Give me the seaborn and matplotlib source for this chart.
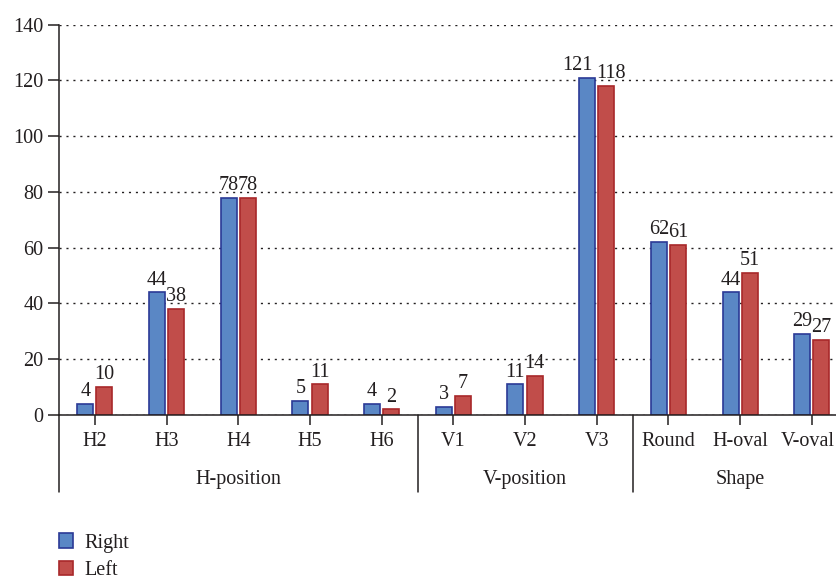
import matplotlib
matplotlib.use('Agg')
import matplotlib.pyplot as plt
import matplotlib.transforms as mtransforms
from matplotlib.patches import Patch
import seaborn as sns
import pandas as pd

categories = ["H2", "H3", "H4", "H5", "H6", "V1", "V2", "V3", "Round", "H-oval", "V-oval"]
right_vals = [4, 44, 78, 5, 4, 3, 11, 121, 62, 44, 29]
left_vals = [10, 38, 78, 11, 2, 7, 14, 118, 61, 51, 27]
groups = ["H-position", "V-position", "Shape"]
group_sizes = [5, 3, 3]
series = ["Right", "Left"]

fills = {"Right": "#5A87C5", "Left": "#C14D4A"}
edges = {"Right": "#2B3A96", "Left": "#A8282A"}
ink = '#231F20'
fs = 14.5

df = pd.DataFrame({
    "category": categories * 2,
    "value": right_vals + left_vals,
    "side": ["Right"] * len(categories) + ["Left"] * len(categories),
})

sns.set_theme(style="white")
plt.rcParams['font.family'] = ['Liberation Serif', 'DejaVu Serif']
plt.rcParams['text.color'] = ink

fig = plt.figure(figsize=(8.37, 5.79), dpi=100)
ax = fig.add_axes([0.0705, 0.2832, 0.9423, 0.6742])

sns.barplot(data=df, x="category", y="value", hue="side", order=categories,
            hue_order=series, palette=fills, saturation=1, width=0.536, gap=0.17,
            legend=False, ax=ax, linewidth=1.2)

# labels above bars; nudge the close pairs apart a bit like the original
nudge = {("Right", "V3"): -7, ("Left", "V3"): 3}
for cont, s in zip(ax.containers, series):
    for bar, cat in zip(cont, categories):
        bar.set_edgecolor(edges[s])
        bar.set_linewidth(1.2)
        h = bar.get_height()
        ax.annotate(f"{h:.0f}", xy=(bar.get_x() + bar.get_width() / 2, h),
                    xytext=(nudge.get((s, cat), 0), 2), textcoords='offset points',
                    ha='center', va='bottom', fontsize=fs, color=ink)

ax.set_xlim(-0.5, len(categories) - 0.5)
ax.set_ylim(0, 140)
ax.set_yticks(range(0, 141, 20))
ax.set_xlabel("")
ax.set_ylabel("")
ax.yaxis.grid(True, linestyle=(0, (1.5, 3.5)), color=ink, linewidth=1.0)
ax.set_axisbelow(True)

for side in ["top", "right"]:
    ax.spines[side].set_visible(False)
for side in ["left", "bottom"]:
    ax.spines[side].set_color(ink)
    ax.spines[side].set_linewidth(1.1)

ax.tick_params(axis='y', direction='out', length=8, width=1.1, color=ink,
               labelsize=fs, labelcolor=ink, left=True, pad=3)
ax.tick_params(axis='x', direction='out', length=7, width=1.1, color=ink,
               labelsize=fs, labelcolor=ink, bottom=True, pad=5)

# last tick label sits at the page edge, keep it inside
last = ax.get_xticklabels()[-1]
last.set_transform(last.get_transform() +
                   mtransforms.ScaledTranslation(-4 / 100, 0, fig.dpi_scale_trans))

# group separators and labels below the axis
trans = mtransforms.blended_transform_factory(ax.transData, ax.transAxes)
sep_bottom = -0.198
pos = -0.5
ax.plot([pos, pos], [0, sep_bottom], transform=trans, color=ink,
        linewidth=1.1, clip_on=False)
for g, n in zip(groups, group_sizes):
    ax.text(pos + n / 2, -0.166, g, transform=trans, ha='center', va='center',
            fontsize=fs, color=ink)
    pos += n
    if pos < len(categories) - 0.5:
        ax.plot([pos, pos], [0, sep_bottom], transform=trans, color=ink,
                linewidth=1.1, clip_on=False)

handles = [Patch(facecolor=fills[s], edgecolor=edges[s], linewidth=1.2, label=s)
           for s in series]
fig.legend(handles=handles, loc='upper left', bbox_to_anchor=(0.058, 0.096),
           frameon=False, fontsize=fs, handlelength=0.7, handleheight=0.7,
           handletextpad=0.6, labelspacing=0.4, borderpad=0)

fig.savefig("out.png", dpi=100)
